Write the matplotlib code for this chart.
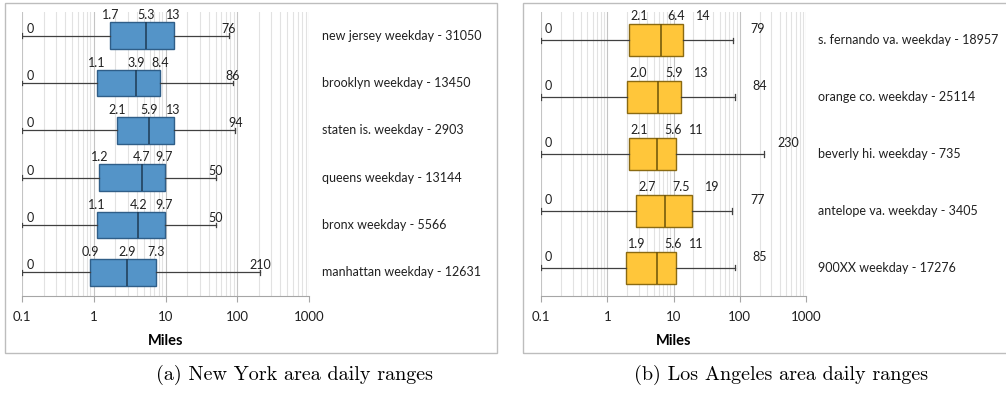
import numpy as np
import matplotlib
matplotlib.use("Agg")
from matplotlib import pyplot as plt
from matplotlib.patches import Rectangle
from matplotlib.ticker import FixedLocator, FixedFormatter, LogLocator, NullFormatter

plt.rcParams['font.family'] = ['Lato', 'DejaVu Sans']

# New York area (top to bottom)
ny_names = ['new jersey weekday - 31050', 'brooklyn weekday - 13450',
            'staten is. weekday - 2903', 'queens weekday - 13144',
            'bronx weekday - 5566', 'manhattan weekday - 12631']
ny_min = [0, 0, 0, 0, 0, 0]
ny_q1 = [1.7, 1.1, 2.1, 1.2, 1.1, 0.9]
ny_med = [5.3, 3.9, 5.9, 4.7, 4.2, 2.9]
ny_q3 = [13, 8.4, 13, 9.7, 9.7, 7.3]
ny_max = [76, 86, 94, 50, 50, 210]

# Los Angeles area (top to bottom)
la_names = ['s. fernando va. weekday - 18957', 'orange co. weekday - 25114',
            'beverly hi. weekday - 735', 'antelope va. weekday - 3405',
            '900XX weekday - 17276']
la_min = [0, 0, 0, 0, 0]
la_q1 = [2.1, 2.0, 2.1, 2.7, 1.9]
la_med = [6.4, 5.9, 5.6, 7.5, 5.6]
la_q3 = [14, 13, 11, 19, 11]
la_max = [79, 84, 230, 77, 85]

tick_vals = [0.1, 1, 10, 100, 1000]
tick_labels = ['0.1', '1', '10', '100', '1000']

W, H = 1006, 393
fig = plt.figure(figsize=(W / 100, H / 100), dpi=100)


def px_axes(x0, y0, x1, y1):
    return fig.add_axes([x0 / W, 1 - y1 / H, (x1 - x0) / W, (y1 - y0) / H])


def fmt(v):
    return '%g' % v if v >= 10 or v == 0 else '%.1f' % v


def panel(ax, names, mins, q1, med, q3, maxs, face, edge, medc, dx, dy_box, dy_end, widths):
    n = len(names)
    pos = np.arange(n)[::-1]
    lo = tick_vals[0]
    stats = []
    for i in range(n):
        stats.append(dict(whislo=max(mins[i], lo), q1=q1[i], med=med[i],
                          q3=q3[i], whishi=maxs[i], fliers=[]))
    ax.bxp(stats, positions=pos, widths=widths, orientation='horizontal',
           patch_artist=True, showfliers=False, capwidths=0.1,
           boxprops=dict(facecolor=face, edgecolor=edge, linewidth=1.0),
           medianprops=dict(color=medc, linewidth=1.1),
           whiskerprops=dict(color='#404040', linewidth=0.9),
           capprops=dict(color='#404040', linewidth=0.9), zorder=3)
    ax.set_xscale('log')
    ax.set_xlim(0.1, 1000)
    ax.set_ylim(-0.5, n - 0.5)

    # value labels: whisker ends sit on the line, quartiles on the box top
    for i in range(n):
        y = pos[i]
        items = [(max(mins[i], lo), mins[i], dx[0], False),
                 (q1[i], q1[i], dx[1], True),
                 (med[i], med[i], dx[2], True),
                 (q3[i], q3[i], dx[3], True),
                 (maxs[i], maxs[i], dx[4], False)]
        for v, shown, off, on_box in items:
            yy = y + widths / 2 if on_box else y
            dy = dy_box if on_box else dy_end
            ax.annotate(fmt(shown), (v, yy), xytext=(off, dy),
                        textcoords='offset pixels', ha='center', va='bottom',
                        fontsize=9, color='#202020', zorder=4)
        ax.text(1.045, y, names[i], transform=ax.get_yaxis_transform(),
                ha='left', va='center', fontsize=9, color='#202020')

    ax.xaxis.set_major_locator(FixedLocator(tick_vals))
    ax.xaxis.set_major_formatter(FixedFormatter(tick_labels))
    ax.xaxis.set_minor_locator(LogLocator(base=10, subs=np.arange(2, 10)))
    ax.xaxis.set_minor_formatter(NullFormatter())
    ax.grid(axis='x', which='major', color='#C4C4C4', linewidth=0.8, zorder=0)
    ax.grid(axis='x', which='minor', color='#E2E2E2', linewidth=0.8, zorder=0)
    ax.set_axisbelow(True)
    for s in ['top', 'left', 'right']:
        ax.spines[s].set_visible(False)
    ax.spines['bottom'].set_color('#A6A6A6')
    ax.tick_params(axis='x', which='major', length=4, color='#A6A6A6',
                   pad=7, labelsize=9.5, labelcolor='#202020')
    ax.tick_params(axis='x', which='minor', length=0)
    ax.tick_params(axis='y', left=False, labelleft=False)
    ax.set_xlabel('Miles', fontsize=10.5, fontweight='bold', labelpad=8)


ax1 = px_axes(22, 12, 309, 296)
panel(ax1, ny_names, ny_min, ny_q1, ny_med, ny_q3, ny_max,
      '#5494C8', '#2F5E88', '#1E3A55', dx=[8, 0, 0, 0, 0],
      dy_box=1, dy_end=1, widths=0.57)

ax2 = px_axes(541, 12, 806, 296)
panel(ax2, la_names, la_min, la_q1, la_med, la_q3, la_max,
      '#FFC63A', '#8A6A12', '#6B5208', dx=[7, 11, 16, 20, 25],
      dy_box=2, dy_end=5, widths=0.56)

# frames around each chart
for x0, x1 in [(5, 497), (523, 1012)]:
    fig.patches.append(Rectangle((x0 / W, 1 - 353 / H), (x1 - x0) / W, 350 / H,
                                 transform=fig.transFigure, fill=False,
                                 edgecolor='#BDBDBD', linewidth=1.0))

fig.text(295 / W, 1 - 375 / H, '(a) New York area daily ranges',
         family='cmr10', fontsize=14.5, ha='center', va='center')
fig.text(781 / W, 1 - 375 / H, '(b) Los Angeles area daily ranges',
         family='cmr10', fontsize=14.5, ha='center', va='center')

fig.savefig('out.png', dpi=100)
